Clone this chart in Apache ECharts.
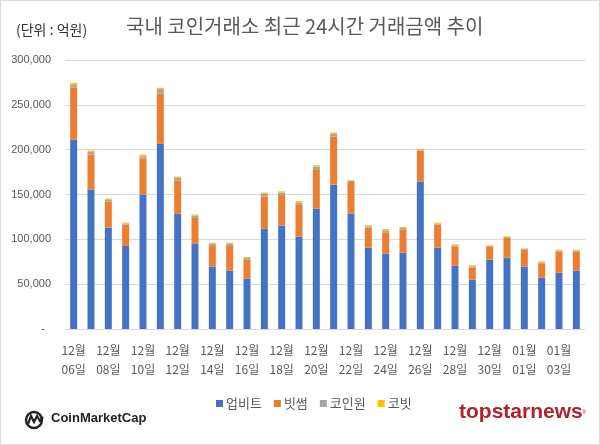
<!DOCTYPE html>
<html>
<head>
<meta charset="utf-8">
<script src="https://cdn.jsdelivr.net/npm/echarts@6/dist/echarts.min.js"></script>
<style>
html,body{margin:0;padding:0;background:#fff;}
#chart{width:600px;height:445px;}
</style>
</head>
<body>
<div id="chart"></div>
<script>
const dates = ['12-06','12-07','12-08','12-09','12-10','12-11','12-12','12-13','12-14','12-15','12-16','12-17','12-18','12-19','12-20','12-21','12-22','12-23','12-24','12-25','12-26','12-27','12-28','12-29','12-30','12-31','01-01','01-02','01-03','01-04'];
const seriesNames = ['업비트','빗썸','코인원','코빗'];
const upbit   = [211000,155500,113000,92600,150000,206500,128700,94900,69500,65000,56000,112000,115300,103000,134300,161000,128700,90700,84000,85200,164400,90700,70600,55000,77300,79600,69500,57200,62800,65000];
const bithumb = [58000,39000,29000,23800,40000,56000,36800,29000,23100,27600,21300,35600,34200,35400,43100,53600,35300,22300,23800,25600,34600,25700,21600,13800,14500,22300,19000,16000,23500,21300];
const coinone = [3000,3000,2000,1200,2600,5000,3000,2500,2600,2600,1900,3000,2600,2600,3700,3000,1200,1500,2200,1900,1000,1100,1100,1100,800,800,800,1100,1100,1100];
const korbit  = [2500,1500,1400,1000,1900,1500,1500,1200,1100,1100,1100,1500,1500,1800,1500,1500,700,1100,1600,1100,900,1100,1100,1100,700,700,700,1100,1100,1100];
const yTicks = [0,50000,100000,150000,200000,250000,300000];

const colors = ['#4472C4','#ED7D31','#A5A5A5','#FFC000'];
const values = [upbit, bithumb, coinone, korbit];
const font = 'Noto Sans CJK KR, Noto Sans, sans-serif';

const chart = echarts.init(document.getElementById('chart'));
chart.setOption({
  animation: false,
  color: colors,
  textStyle: {fontFamily: font},
  title: [{
    text: '국내 코인거래소 최근 24시간 거래금액 추이',
    left: 121, top: 11,
    textStyle: {fontSize: 20, fontWeight: 'normal', color: '#595959', fontFamily: font}
  },{
    text: '(단위 : 억원)',
    left: 11, top: 18,
    textStyle: {fontSize: 14, fontWeight: 'normal', color: '#333', fontFamily: font}
  }],
  legend: {
    data: seriesNames,
    left: 211, top: 392,
    icon: 'rect', itemWidth: 7, itemHeight: 7, itemGap: 12,
    textStyle: {fontSize: 13, color: '#595959', fontFamily: font, padding: [0,0,0,-2]}
  },
  grid: {left: 65, right: 15, top: 60, bottom: 116},
  xAxis: {
    type: 'category',
    data: dates,
    axisLine: {lineStyle: {color: '#d9d9d9'}},
    axisTick: {interval: 1, length: 5, lineStyle: {color: '#d9d9d9'}},
    axisLabel: {
      interval: 1, margin: 12, color: '#595959', fontSize: 12, lineHeight: 19,
      formatter: v => { const p = v.split('-'); return p[0] + '월\n' + p[1] + '일'; }
    }
  },
  yAxis: {
    type: 'value',
    min: yTicks[0], max: yTicks[yTicks.length-1], interval: yTicks[1]-yTicks[0],
    axisLine: {show: false}, axisTick: {show: false},
    splitLine: {lineStyle: {color: '#d9d9d9'}},
    axisLabel: {
      margin: 14, color: '#595959', fontSize: 11, fontFamily: 'Liberation Sans, Arial, sans-serif',
      formatter: v => v === 0 ? '-  ' : v.toString().replace(/\B(?=(\d{3})+(?!\d))/g, ',')
    }
  },
  series: seriesNames.map((n, i) => ({
    name: n, type: 'bar', stack: 'total', data: values[i], barWidth: 7
  })),
  graphic: [
    {type: 'rect', shape: {x: 0.5, y: 0.5, width: 599, height: 444}, style: {fill: 'none', stroke: '#d9d9d9', lineWidth: 1}, silent: true},
    {type: 'circle', shape: {cx: 34, cy: 420, r: 8}, style: {fill: 'none', stroke: '#222', lineWidth: 2.4}},
    {type: 'polyline', shape: {points: [[28,424],[31,416],[34,422],[37,416],[40,421],[43,417]]}, style: {fill: 'none', stroke: '#222', lineWidth: 2.2}},
    {type: 'text', left: 51, top: 412, style: {text: 'CoinMarketCap', font: 'bold 13px Liberation Sans, Arial, sans-serif', fill: '#222'}},
    {type: 'text', left: 459, top: 402, style: {text: 'topstarnews', font: 'bold 21px Liberation Sans, Arial, sans-serif', fill: '#B0232A'}},
    {type: 'text', left: 582, top: 409, style: {text: '®', font: '6px Liberation Sans, Arial, sans-serif', fill: '#B0232A'}}
  ]
});
</script>
</body>
</html>
